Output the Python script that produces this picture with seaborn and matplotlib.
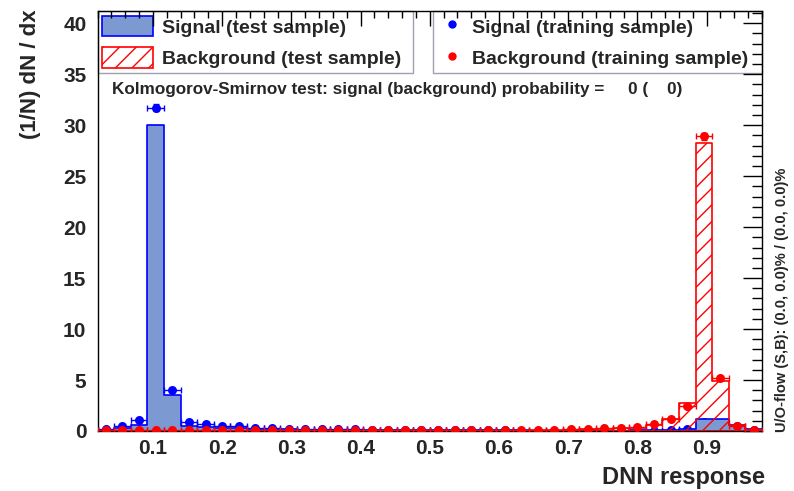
import numpy as np
import pandas as pd
import matplotlib
matplotlib.use("Agg")
import matplotlib.pyplot as plt
import seaborn as sns
from matplotlib.patches import Patch
from matplotlib.lines import Line2D
from matplotlib.ticker import MultipleLocator, FormatStrFormatter

sns.set_theme(style="white")
plt.rcParams["font.family"] = ["Liberation Sans", "DejaVu Sans"]
plt.rcParams["font.weight"] = "bold"
plt.rcParams["axes.labelweight"] = "bold"
plt.rcParams["hatch.linewidth"] = 1.0
plt.rcParams["hatch.color"] = "#ff3a3a"

# Response binning: 40 bins between 0.02 and 0.98
x_min, x_max, n_bins = 0.02, 0.98, 40
edges = np.linspace(x_min, x_max, n_bins + 1)
centers = 0.5 * (edges[:-1] + edges[1:])
half_width = 0.5 * (edges[1] - edges[0])

# Normalised distributions (1/N dN/dx) per bin
sig_test = [0.10, 0.30, 0.60, 30.0, 3.50, 0.45, 0.35, 0.28, 0.25, 0.20,
            0.16, 0.15, 0.13, 0.12, 0.11, 0.10, 0.09, 0.08, 0.08, 0.07,
            0.07, 0.06, 0.06, 0.05, 0.05, 0.05, 0.04, 0.04, 0.04, 0.04,
            0.04, 0.04, 0.05, 0.05, 0.06, 0.20, 1.20, 1.15, 0.60, 0.15]
sig_train = [0.15, 0.45, 1.05, 31.7, 4.05, 0.90, 0.70, 0.45, 0.45, 0.25,
             0.25, 0.22, 0.20, 0.18, 0.17, 0.15, 0.14, 0.12, 0.11, 0.10,
             0.09, 0.08, 0.07, 0.06, 0.05, 0.04, 0.03, 0.03, 0.02, 0.02,
             0.02, 0.02, 0.02, 0.03, 0.05, 0.15, 0.85, 0.80, 0.45, 0.10]
bkg_test = [0.04, 0.04, 0.04, 0.04, 0.04, 0.04, 0.04, 0.04, 0.04, 0.04,
            0.04, 0.04, 0.04, 0.04, 0.04, 0.04, 0.04, 0.04, 0.04, 0.04,
            0.04, 0.04, 0.04, 0.04, 0.04, 0.04, 0.07, 0.07, 0.12, 0.15,
            0.20, 0.25, 0.30, 0.60, 1.20, 2.70, 28.3, 4.95, 0.60, 0.05]
bkg_train = [0.05, 0.05, 0.05, 0.05, 0.05, 0.05, 0.05, 0.05, 0.05, 0.05,
             0.05, 0.05, 0.05, 0.05, 0.05, 0.05, 0.05, 0.05, 0.05, 0.05,
             0.05, 0.05, 0.05, 0.08, 0.08, 0.08, 0.08, 0.08, 0.15, 0.20,
             0.25, 0.30, 0.40, 0.65, 1.15, 2.50, 28.9, 5.20, 0.50, 0.05]

df = pd.DataFrame({
    "response": centers,
    "sig_test": sig_test,
    "sig_train": sig_train,
    "bkg_test": bkg_test,
    "bkg_train": bkg_train,
})
# statistical uncertainty shown on the training points
df["sig_err"] = 0.06 * np.sqrt(df["sig_train"])
df["bkg_err"] = 0.06 * np.sqrt(df["bkg_train"])

sig_fill = "#7d99d1"
sig_line = "#0000ff"
bkg_line = "#ff0000"

fig = plt.figure(figsize=(7.94, 4.91), dpi=100)
ax = fig.add_axes([0.1229, 0.1222, 0.8368, 0.8554])
ax.set_axisbelow(False)

# Signal test sample: filled step histogram
sns.histplot(data=df, x="response", weights="sig_test", bins=n_bins,
             binrange=(x_min, x_max), element="step", fill=True, ax=ax,
             stat="count")
poly = ax.collections[-1]
poly.set_facecolor(sig_fill)
poly.set_edgecolor(sig_line)
poly.set_alpha(1.0)
poly.set_linewidth(1.2)
poly.set_zorder(2)

# Background test sample: hatched step histogram
sns.histplot(data=df, x="response", weights="bkg_test", bins=n_bins,
             binrange=(x_min, x_max), element="step", fill=True, ax=ax,
             stat="count")
poly = ax.collections[-1]
poly.set_facecolor("none")
poly.set_alpha(1.0)
poly.set_edgecolor(bkg_line)
poly.set_hatch("//")
poly.set_linewidth(1.2)
poly.set_zorder(3)

# Training samples: points with bin-width error bars
for col, err, color, z in [("sig_train", "sig_err", sig_line, 1.6),
                           ("bkg_train", "bkg_err", bkg_line, 6)]:
    ax.errorbar(df["response"], df[col], xerr=half_width, yerr=df[err],
                fmt="none", ecolor=color, elinewidth=1.0, capsize=2.2,
                capthick=1.0, zorder=z)
    sns.scatterplot(data=df, x="response", y=col, ax=ax, color=color,
                    s=42, edgecolor=color, linewidth=0, zorder=z + 0.2,
                    legend=False)

ax.set_xlim(x_min, x_max)
ax.set_ylim(0, 41.2)
ax.set_xlabel("")
ax.set_ylabel("")

ax.xaxis.set_major_locator(MultipleLocator(0.1))
ax.xaxis.set_minor_locator(MultipleLocator(0.02))
ax.yaxis.set_major_locator(MultipleLocator(5))
ax.yaxis.set_minor_locator(MultipleLocator(1))
ax.xaxis.set_major_formatter(FormatStrFormatter("%.1f"))
ax.yaxis.set_major_formatter(FormatStrFormatter("%d"))
ax.tick_params(which="both", direction="in", top=True, right=True,
               color="black", width=1.0)
ax.tick_params(axis="x", which="major", length=11, pad=6, labelsize=15)
ax.tick_params(axis="x", which="minor", length=5)
ax.tick_params(axis="y", which="major", length=14, pad=8, labelsize=15)
ax.tick_params(axis="y", which="minor", length=7)
for lab in ax.get_xticklabels() + ax.get_yticklabels():
    lab.set_fontweight("bold")
for sp in ax.spines.values():
    sp.set_color("black")
    sp.set_linewidth(1.0)

# Legends: test samples (left box) and training samples (right box)
h_test = [Patch(facecolor=sig_fill, edgecolor=sig_line, linewidth=1.2),
          Patch(facecolor="white", edgecolor=bkg_line, hatch="//", linewidth=1.2)]
leg1 = ax.legend(h_test, ["Signal (test sample)", "Background (test sample)"],
                 loc="upper left", bbox_to_anchor=(0.0, 1.0, 0.4747, 0.0),
                 mode="expand", borderaxespad=0.0, fontsize=14,
                 handlelength=2.6, handleheight=1.25, handletextpad=0.45,
                 labelspacing=0.55, borderpad=0.25, fancybox=False,
                 framealpha=1.0, edgecolor="#a0a0b0")
leg1.get_frame().set_linewidth(1.0)
ax.add_artist(leg1)

h_train = [Line2D([], [], marker="o", color=sig_line, linestyle="none", markersize=5),
           Line2D([], [], marker="o", color=bkg_line, linestyle="none", markersize=5)]
leg2 = ax.legend(h_train, ["Signal (training sample)", "Background (training sample)"],
                 loc="upper left", bbox_to_anchor=(0.5048, 1.0, 0.4952, 0.0),
                 mode="expand", borderaxespad=0.0, fontsize=14,
                 handlelength=1.5, handleheight=1.25, handletextpad=0.25,
                 labelspacing=0.55, borderpad=0.25, fancybox=False,
                 framealpha=1.0, edgecolor="#a0a0b0")
leg2.get_frame().set_linewidth(1.0)
for lg in (leg1, leg2):
    lg.set_zorder(2.3)
    for t in lg.get_texts():
        t.set_fontweight("bold")

ax.text(0.0217, 0.812,
        "Kolmogorov-Smirnov test: signal (background) probability =     0 (    0)",
        transform=ax.transAxes, ha="left", va="center", fontsize=12.3,
        fontweight="bold", zorder=11)

fig.text(0.038, 0.98, "(1/N) dN / dx", rotation=90, ha="center", va="top",
         fontsize=16, fontweight="bold")
fig.text(0.963, 0.0265, "DNN response", ha="right", va="center",
         fontsize=17, fontweight="bold")
fig.text(0.985, 0.12, "U/O-flow (S,B): (0.0, 0.0)% / (0.0, 0.0)%",
         rotation=90, ha="center", va="bottom", fontsize=10.5,
         fontweight="bold")

fig.savefig("out.png", dpi=100, facecolor="white")
